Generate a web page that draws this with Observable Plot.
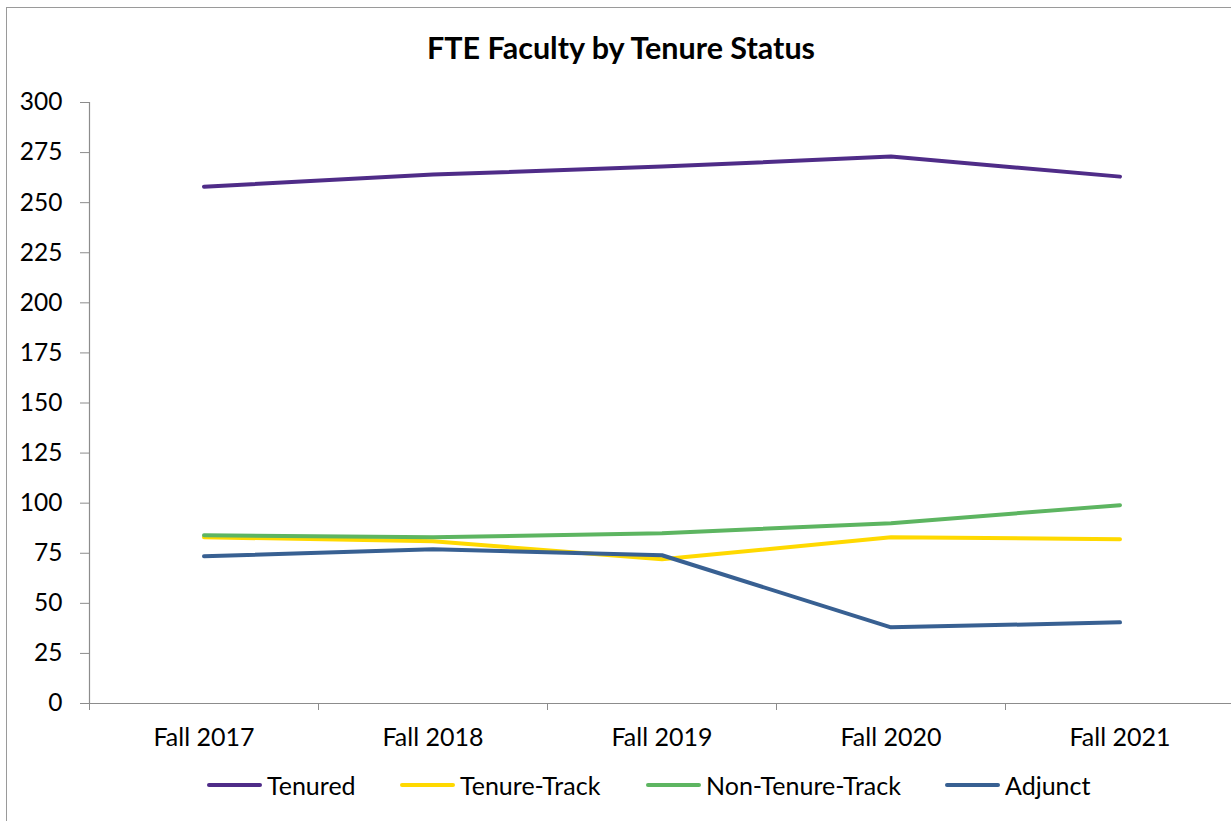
<!DOCTYPE html>
<html>
<head>
<meta charset="utf-8">
<script src="https://cdn.jsdelivr.net/npm/d3@7"></script>
<script src="https://cdn.jsdelivr.net/npm/@observablehq/plot@0.6"></script>
<style>
  html, body { margin: 0; padding: 0; background: #fff; }
  #wrap { position: relative; width: 1231px; height: 821px; overflow: hidden; font-family: Lato, "Open Sans", sans-serif; }
  #frame { position: absolute; left: 6px; top: 7px; width: 1300px; height: 900px; border: 1.5px solid #9a9a9a; box-sizing: border-box; }
  #title { position: absolute; left: 0; width: 1242px; top: 29px; text-align: center; font-weight: bold; font-size: 30.5px; color: #000; }
  #chart { position: absolute; left: 0; top: 80px; }
  #legend { position: absolute; left: 207px; top: 770px; font-size: 25px; color: #000; white-space: nowrap; }
  .item { position: absolute; top: 0; display: flex; align-items: center; height: 30px; }
  .sw { width: 55px; height: 4px; border-radius: 2px; margin-right: 5px; }
</style>
</head>
<body>
<div id="wrap">
  <div id="frame"></div>
  <div id="title">FTE Faculty by Tenure Status</div>
  <div id="chart"></div>
  <div id="legend"></div>
</div>
<script>
const categories = ["Fall 2017", "Fall 2018", "Fall 2019", "Fall 2020", "Fall 2021"];
const seriesNames = ["Tenured", "Tenure-Track", "Non-Tenure-Track", "Adjunct"];
const tenured = [258, 264, 268, 273, 263];
const tenureTrack = [83, 81, 72, 83, 82];
const nonTenureTrack = [84, 83, 85, 90, 99];
const adjunct = [73.5, 77, 74, 38, 40.5];
const colors = ["#4f2c88", "#ffd900", "#5db561", "#386092"];
const yTicks = [0, 25, 50, 75, 100, 125, 150, 175, 200, 225, 250, 275, 300];

const seriesValues = [tenured, tenureTrack, nonTenureTrack, adjunct];
const rows = [];
seriesNames.forEach((name, s) => {
  seriesValues[s].forEach((v, i) => rows.push({series: name, i, cat: categories[i], value: v}));
});
const boundaries = d3.range(categories.length + 1).map(i => i - 0.5);
const axisColor = "#8c8c8c";

const chart = Plot.plot({
  width: 1231,
  height: 680,
  marginLeft: 89,
  marginRight: -3,
  marginTop: 22,
  marginBottom: 57,
  style: {fontFamily: "Lato, 'Open Sans', sans-serif", fontSize: "24px", color: "#000", background: "transparent", overflow: "visible"},
  x: {domain: [-0.5, categories.length - 0.5]},
  y: {domain: [0, 300]},
  color: {domain: seriesNames, range: colors},
  marks: [
    Plot.ruleY([0], {stroke: axisColor, strokeWidth: 1.2}),
    Plot.ruleX([-0.5], {stroke: axisColor, strokeWidth: 1.2}),
    Plot.axisY({ticks: yTicks, tickSize: 9, tickPadding: 18, stroke: axisColor, fill: "#000", label: null, fontSize: 24.5}),
    Plot.axisX({ticks: boundaries, tickSize: 7, tickFormat: () => "", stroke: axisColor, label: null}),
    Plot.axisX({ticks: d3.range(categories.length), tickSize: 0, tickPadding: 25, tickFormat: i => categories[i], fill: "#000", label: null, fontSize: 25}),
    Plot.line(rows, {x: "i", y: "value", z: "series", stroke: "series", strokeWidth: 4, strokeLinecap: "round", strokeLinejoin: "round"})
  ]
});
document.getElementById("chart").appendChild(chart);

const legendLefts = [0, 193, 439, 738];
const legend = document.getElementById("legend");
seriesNames.forEach((name, s) => {
  const item = document.createElement("div");
  item.className = "item";
  item.style.left = legendLefts[s] + "px";
  const sw = document.createElement("div");
  sw.className = "sw";
  sw.style.background = colors[s];
  const t = document.createElement("span");
  t.textContent = name;
  item.appendChild(sw);
  item.appendChild(t);
  legend.appendChild(item);
});
</script>
</body>
</html>
